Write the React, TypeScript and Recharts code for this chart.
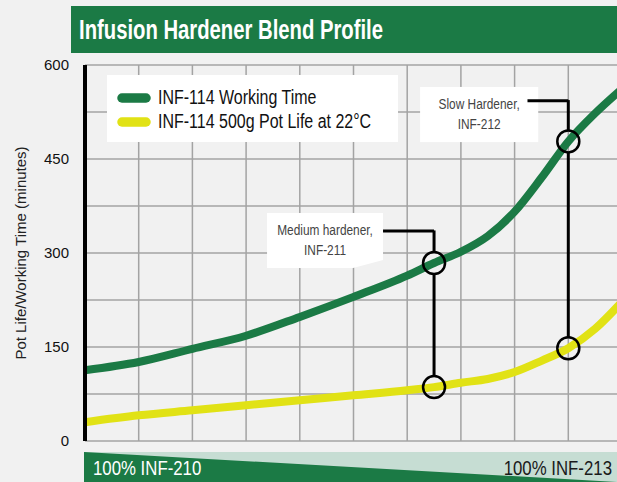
import React from 'react';
import {
    ComposedChart,
    Line,
    XAxis,
    YAxis,
    CartesianGrid,
    ReferenceArea,
    ReferenceLine,
    ReferenceDot,
    Label,
} from 'recharts';

// blend position along the x axis: 0 = 100% INF-210, 10 = 100% INF-213
const BLEND_STEPS = [0, 1, 2, 3, 4, 5, 6, 6.5, 7, 7.5, 8, 8.5, 9, 9.5, 10];
const WORKING_TIME = [113, 126, 147, 168, 198, 230, 264, 284, 302, 327, 366, 420, 478, 523, 562];
const POT_LIFE = [30, 41, 49, 57, 65, 73, 81, 86, 93, 99, 110, 128, 148, 179, 222];

const X_TICKS = [0, 1, 2, 3, 4, 5, 6, 7, 8, 9, 10];
const Y_TICKS = [0, 75, 150, 225, 300, 375, 450, 525, 600];
const Y_LABELED = [0, 150, 300, 450, 600];

const SERIES = [
    { key: 'working', label: 'INF-114 Working Time', color: '#1b7a45', values: WORKING_TIME },
    { key: 'potLife', label: 'INF-114 500g Pot Life at 22°C', color: '#e1e215', values: POT_LIFE },
];

// hardener call-outs: where they sit on the blend axis and the box they point from
const ANNOTATIONS = [
    { x: 6.5, upper: 284, lower: 86, lines: ['Medium hardener,', 'INF-211'], box: [3.39, 5.55, 276, 364], elbow: [5.55, 335], cut: true },
    { x: 9, upper: 478, lower: 148, lines: ['Slow Hardener,', 'INF-212'], box: [6.24, 8.44, 477, 565], elbow: [8.24, 543], cut: false },
];

const data = BLEND_STEPS.map((step, i) => ({
    step,
    working: WORKING_TIME[i],
    potLife: POT_LIFE[i],
}));

const FONT = '"Liberation Sans", Arial, sans-serif';
const NARROW_K = 0.82; // squeeze Liberation Sans to an Arial Narrow look

const CHART_W = 640;
const CHART_H = 482;
const MARGIN = { top: 65, right: 18, bottom: 41, left: 0 };
const Y_MAX = 600;
const CIRCLE_R = 11;
// minutes per pixel, used to stop the connector lines at the circle edges
const UNIT_PER_PX = Y_MAX / (CHART_H - MARGIN.top - MARGIN.bottom);
const GAP = CIRCLE_R * UNIT_PER_PX;

const NarrowText = ({ x, y, children, k = NARROW_K, ...rest }: any) => (
    <text
        x={x}
        y={y}
        transform={`translate(${x} 0) scale(${k} 1) translate(${-x} 0)`}
        fontFamily={FONT}
        {...rest}
    >
        {children}
    </text>
);

const BoxShape = (props: any) => {
    const { x, y, width, height, cut } = props;
    if (!cut) return <rect x={x} y={y} width={width} height={height} fill="#fff" />;
    const pts = [
        [x, y],
        [x + width, y],
        [x + width, y + height - 8],
        [x + width - 30, y + height],
        [x, y + height],
    ].map(p => p.join(',')).join(' ');
    return <polygon points={pts} fill="#fff" />;
};

const boxLabel = (lines: string[]) => (props: any) => {
    const { viewBox } = props;
    const cx = viewBox.x + viewBox.width / 2;
    return (
        <g>
            {lines.map((line, i) => (
                <NarrowText key={i} x={cx} y={viewBox.y + 22 + i * 20} textAnchor="middle" fill="#444" fontSize={14.5}>
                    {line}
                </NarrowText>
            ))}
        </g>
    );
};

// x ticks exist only to feed the vertical grid lines
const EmptyTick = () => <g />;

const App: React.FC = () => {
    return (
        <div
            style={{
                position: 'absolute',
                left: 0,
                top: 0,
                width: 617,
                height: 482,
                overflow: 'hidden',
                background: '#f1f1f1',
            }}
        >
            <svg style={{ position: 'absolute', left: 0, top: 0 }} width={617} height={60}>
                <rect x={71} y={6} width={546} height={47} fill="#1b7a45" />
                <text
                    x={79}
                    y={39}
                    fill="#fff"
                    fontFamily={FONT}
                    fontWeight="bold"
                    fontSize={28}
                    textLength={304}
                    lengthAdjust="spacingAndGlyphs"
                >
                    Infusion Hardener Blend Profile
                </text>
            </svg>

            <div style={{ position: 'absolute', left: 0, top: 0 }}>
                <ComposedChart width={CHART_W} height={CHART_H} data={data} margin={MARGIN}>
                    <CartesianGrid stroke="#a3a3a3" strokeWidth={1.5} />
                    <XAxis
                        dataKey="step"
                        type="number"
                        domain={[0, 10]}
                        ticks={X_TICKS}
                        interval={0}
                        tick={EmptyTick}
                        tickLine={false}
                        height={0}
                        axisLine={{ stroke: '#000', strokeWidth: 4 }}
                    />
                    <YAxis
                        type="number"
                        domain={[0, Y_MAX]}
                        ticks={Y_TICKS}
                        width={85}
                        tickLine={false}
                        tickSize={0}
                        tickMargin={16}
                        interval={0}
                        axisLine={{ stroke: '#000', strokeWidth: 4 }}
                        tick={{ fill: '#111', fontSize: 15, fontFamily: FONT }}
                        tickFormatter={(v: number) => (Y_LABELED.includes(v) ? String(v) : '')}
                    >
                        <Label
                            content={(props: any) => {
                                const vb = props.viewBox;
                                const cy = vb.y + vb.height / 2;
                                return (
                                    <text
                                        x={20}
                                        y={cy}
                                        transform={`rotate(-90 20 ${cy})`}
                                        textAnchor="middle"
                                        dominantBaseline="central"
                                        fill="#222"
                                        fontSize={15}
                                        fontFamily={FONT}
                                    >
                                        Pot Life/Working Time (minutes)
                                    </text>
                                );
                            }}
                        />
                    </YAxis>

                    {ANNOTATIONS.map(a => (
                        <ReferenceArea
                            key={`box-${a.x}`}
                            x1={a.box[0]}
                            x2={a.box[1]}
                            y1={a.box[2]}
                            y2={a.box[3]}
                            shape={(p: any) => <BoxShape {...p} cut={a.cut} />}
                            label={boxLabel(a.lines)}
                        />
                    ))}

                    {SERIES.map(s => (
                        <Line
                            key={s.key}
                            type="monotone"
                            dataKey={s.key}
                            stroke={s.color}
                            strokeWidth={8}
                            dot={false}
                            activeDot={false}
                            isAnimationActive={false}
                        />
                    ))}

                    {ANNOTATIONS.map(a => (
                        <React.Fragment key={`call-${a.x}`}>
                            <ReferenceLine
                                segment={[{ x: a.elbow[0], y: a.elbow[1] }, { x: a.x, y: a.elbow[1] }]}
                                stroke="#000"
                                strokeWidth={3}
                            />
                            <ReferenceLine
                                segment={[{ x: a.x, y: a.elbow[1] + 1 }, { x: a.x, y: a.upper + GAP }]}
                                stroke="#000"
                                strokeWidth={3}
                            />
                            <ReferenceLine
                                segment={[{ x: a.x, y: a.upper - GAP }, { x: a.x, y: a.lower + GAP }]}
                                stroke="#000"
                                strokeWidth={3}
                            />
                            <ReferenceDot x={a.x} y={a.upper} r={CIRCLE_R} fill="none" stroke="#000" strokeWidth={2.5} />
                            <ReferenceDot x={a.x} y={a.lower} r={CIRCLE_R} fill="none" stroke="#000" strokeWidth={2.5} />
                        </React.Fragment>
                    ))}
                </ComposedChart>
            </div>

            <svg style={{ position: 'absolute', left: 107, top: 75 }} width={291} height={67}>
                <rect x={0} y={0} width={291} height={67} fill="#fff" />
                {SERIES.map((s, i) => (
                    <g key={s.key}>
                        <line
                            x1={15}
                            x2={39}
                            y1={23 + i * 24}
                            y2={23 + i * 24}
                            stroke={s.color}
                            strokeWidth={9.5}
                            strokeLinecap="round"
                        />
                        <NarrowText x={51} y={29 + i * 24} fill="#111" fontSize={19.5}>
                            {s.label}
                        </NarrowText>
                    </g>
                ))}
            </svg>

            <svg style={{ position: 'absolute', left: 0, top: 452 }} width={617} height={30}>
                <rect x={84} y={0} width={533} height={30} fill="#c6ddd3" />
                <polygon points="84,0 617,30 84,30" fill="#1b7a45" />
                <NarrowText x={93} y={23} fill="#fff" fontSize={20.5}>
                    100% INF-210
                </NarrowText>
                <NarrowText x={612} y={23} fill="#1a1a1a" fontSize={20.5} textAnchor="end">
                    100% INF-213
                </NarrowText>
            </svg>
        </div>
    );
};

export default App;
